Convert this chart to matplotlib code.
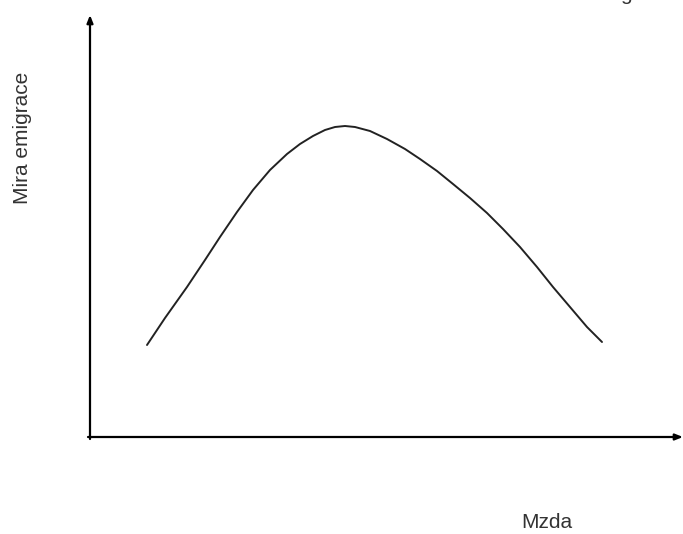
import matplotlib
matplotlib.use("Agg")
import matplotlib.pyplot as plt

# curve (pixel coordinates)
curve_x = [147, 165, 187, 205, 220, 237, 253, 270, 287, 300, 313, 325, 335, 345, 355, 370, 387, 405, 420, 437, 453, 470, 487, 503, 520, 537, 553, 570, 587, 602]
curve_y = [345, 318, 287, 260, 237, 212, 190, 170, 154, 144, 136, 130, 127, 126, 127, 131, 139, 149, 159, 171, 184, 198, 213, 229, 247, 267, 287, 307, 327, 342]

x_label = "Mzda"
y_label = "Mira emigrace"

fig = plt.figure(figsize=(6.83, 5.34), dpi=100)
ax = fig.add_axes([0, 0, 1, 1])
ax.set_xlim(0, 683)
ax.set_ylim(534, 0)
ax.axis("off")

ax.plot(curve_x, curve_y, color="#222222", lw=1.4, solid_capstyle="round",
        solid_joinstyle="round", antialiased=True)

# axes with arrows
ax.annotate("", xy=(90, 15), xytext=(90, 439), annotation_clip=False,
            arrowprops=dict(arrowstyle="-|>,head_length=0.45,head_width=0.18",
                            color="black", lw=1.6, shrinkA=0, shrinkB=0))
ax.annotate("", xy=(683, 437), xytext=(88, 437), annotation_clip=False,
            arrowprops=dict(arrowstyle="-|>,head_length=0.45,head_width=0.18",
                            color="black", lw=1.6, shrinkA=0, shrinkB=0))

ax.text(23, 138, y_label, rotation=90, ha="center", va="center",
        fontsize=15, family="Liberation Sans", color="#333333")
ax.text(547, 522, x_label, ha="center", va="center",
        fontsize=15, family="Liberation Sans", color="#333333")
# cut-off title glyph at top edge (only its descender is visible in the reference)
ax.text(626, 0, "g", ha="center", va="baseline", fontsize=15,
        family="Liberation Sans", color="#333333", clip_on=False)

fig.savefig("out.png", dpi=100)
